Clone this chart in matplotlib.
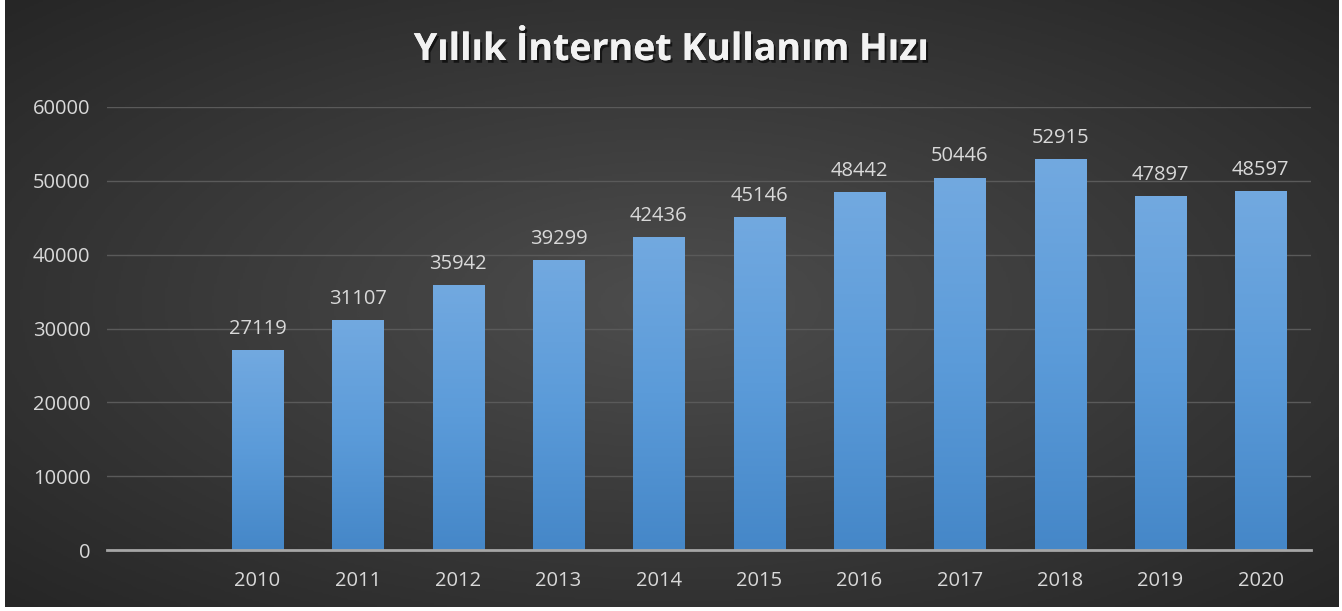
import numpy as np
import matplotlib
matplotlib.use("Agg")
import matplotlib.pyplot as plt
import matplotlib.patheffects as pe
from matplotlib.colors import LinearSegmentedColormap

categories = ["", "2010", "2011", "2012", "2013", "2014", "2015", "2016", "2017", "2018", "2019", "2020"]
values = [None, 27119, 31107, 35942, 39299, 42436, 45146, 48442, 50446, 52915, 47897, 48597]
title = "Yıllık İnternet Kullanım Hızı"
yticks = [0, 10000, 20000, 30000, 40000, 50000, 60000]

plt.rcParams['font.family'] = ['Open Sans', 'DejaVu Sans']

W, H = 1342, 611
fig = plt.figure(figsize=(W / 100, H / 100), dpi=100, facecolor="white")

# background radial gradient
bg = fig.add_axes([5 / W, 4 / H, 1334 / W, 607 / H])
bg.set_axis_off()
yy, xx = np.mgrid[0:300, 0:600]
cx, cy = 300, 150
d = np.sqrt(((xx - cx) / 600) ** 2 + ((yy - cy) / 300) ** 2)
d = np.clip(d / 0.75, 0, 1)
bgcmap = LinearSegmentedColormap.from_list("bg", ["#4d4d4d", "#262626"])
bg.imshow(d, cmap=bgcmap, aspect="auto", extent=[0, 1, 0, 1], origin="upper")
bg.set_xlim(0, 1)
bg.set_ylim(0, 1)

ax = fig.add_axes([107 / W, 1 - 550 / H, (1311 - 107) / W, (550 - 107) / H])
ax.patch.set_alpha(0)
x = np.arange(len(categories))
heights = [v if v is not None else 0 for v in values]
bars = ax.bar(x, heights, width=0.51, color="none", zorder=3)

gcmap = LinearSegmentedColormap.from_list("bar", ["#4587c8", "#5b9bd9", "#72a9e0"])
grad = np.linspace(0, 1, 256).reshape(-1, 1)
for b, v in zip(bars, values):
    if v is None:
        continue
    im = ax.imshow(grad, cmap=gcmap, aspect="auto", origin="lower",
                   extent=[b.get_x(), b.get_x() + b.get_width(), 0, v], zorder=3)
    im.set_clip_path(b)
    ax.text(b.get_x() + b.get_width() / 2, v + 1500, str(v), ha="center", va="bottom",
            color="#d9d9d9", fontsize=14.5)
ax.set_xlim(-0.5, len(categories) - 0.5)
ax.set_ylim(0, 60000)
ax.set_aspect("auto")

ax.set_yticks(yticks)
ax.set_yticklabels([str(t) for t in yticks])
ax.set_xticks(x)
ax.set_xticklabels(categories)
ax.tick_params(axis="both", length=0, colors="#d9d9d9", labelsize=14.5)
ax.tick_params(axis="y", pad=12)
ax.tick_params(axis="x", pad=15)
ax.grid(axis="y", color="#5a5a5a", linewidth=1, zorder=0)
ax.set_axisbelow(True)
for s in ["top", "right", "left"]:
    ax.spines[s].set_visible(False)
ax.spines["bottom"].set_color("#a6a6a6")
ax.spines["bottom"].set_linewidth(2)
ax.spines["bottom"].set_zorder(4)

fig.text(0.5, 1 - 50 / H, title, ha="center", va="center", color="#f2f2f2",
         fontsize=27, fontweight="bold",
         path_effects=[pe.withSimplePatchShadow(offset=(1.5, -2), shadow_rgbFace="black", alpha=0.6), pe.Normal()])

fig.savefig("out.png", dpi=100, facecolor="white")
